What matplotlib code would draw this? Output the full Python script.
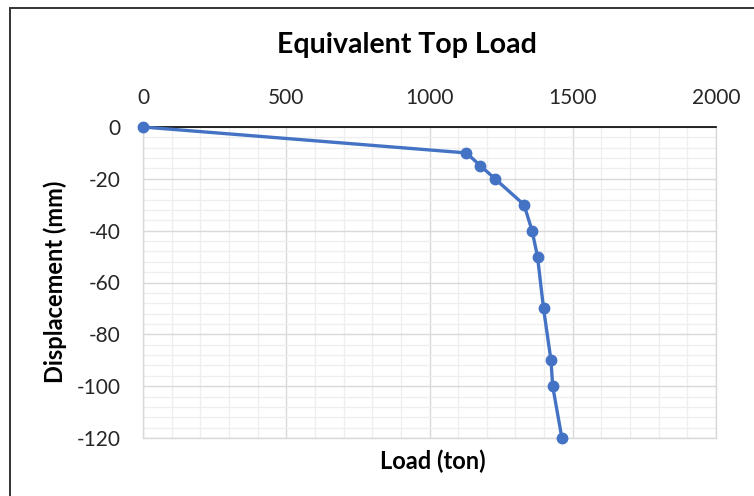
import matplotlib
matplotlib.use("Agg")
import matplotlib.pyplot as plt
from matplotlib.ticker import MultipleLocator
from matplotlib.patches import Rectangle

load = [0, 1129, 1178, 1229, 1330, 1358, 1377, 1398, 1424, 1430, 1462]
disp = [0, -10, -15, -20, -30, -40, -50, -70, -90, -100, -120]

title = "Equivalent Top Load"
xlabel = "Load (ton)"
ylabel = "Displacement (mm)"

plt.rcParams['font.family'] = ['Lato', 'DejaVu Sans']
plt.rcParams['axes.unicode_minus'] = False

fig = plt.figure(figsize=(7.54, 4.96), dpi=100)
W, H = 754, 496
ax = fig.add_axes([143 / W, 1 - 438 / H, (716 - 143) / W, (438 - 127) / H])

ax.plot(load, disp, color="#4472C4", lw=2.4, marker="o", ms=7.5, zorder=5, clip_on=False)

ax.set_xlim(0, 2000)
ax.set_ylim(-120, 0)
ax.xaxis.set_major_locator(MultipleLocator(500))
ax.xaxis.set_minor_locator(MultipleLocator(100))
ax.yaxis.set_major_locator(MultipleLocator(20))
ax.yaxis.set_minor_locator(MultipleLocator(4))
ax.grid(which="major", color="#d9d9d9", lw=1.0)
ax.grid(which="minor", color="#eeeeee", lw=0.9)
ax.set_axisbelow(True)

ax.xaxis.tick_top()
ax.tick_params(axis="both", which="both", length=0, labelsize=15, labelcolor="#262626")
ax.tick_params(axis="x", pad=14)
ax.tick_params(axis="y", pad=16)

for s in ["left", "right", "bottom"]:
    ax.spines[s].set_color("#d9d9d9")
    ax.spines[s].set_linewidth(1.0)
ax.spines["top"].set_color("#000000")
ax.spines["top"].set_linewidth(1.2)
ax.spines["top"].set_zorder(4)

fig.text(407 / W, 1 - 45 / H, title, ha="center", va="center", fontsize=20.5, fontweight="bold", color="#000000")
fig.text(433 / W, 1 - 461 / H, xlabel, ha="center", va="center", fontsize=17, fontweight="bold", color="#000000")
fig.text(55 / W, 1 - 282 / H, ylabel, ha="center", va="center", rotation=90, fontsize=17, fontweight="bold", color="#000000")

# chart border
fig.patches.append(Rectangle((10 / W, -0.05), 1.2, 1 - 8 / H + 0.05, transform=fig.transFigure,
                             fill=False, edgecolor="#333333", lw=1.4, zorder=0))

fig.savefig("out.png", dpi=100, facecolor="white")
